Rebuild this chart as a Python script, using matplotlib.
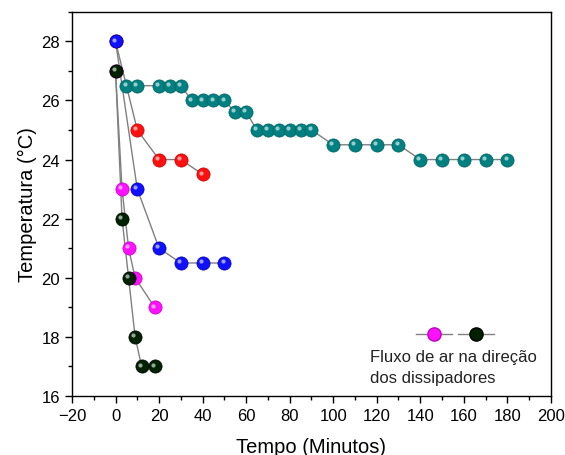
import matplotlib
matplotlib.use("Agg")
import matplotlib.pyplot as plt
from matplotlib.transforms import offset_copy
from matplotlib.lines import Line2D
from matplotlib.ticker import MultipleLocator

plt.rcParams['font.family'] = ['Liberation Sans', 'DejaVu Sans']

teal_t = [5, 10, 20, 25, 30, 35, 40, 45, 50, 55, 60, 65, 70, 75, 80, 85, 90,
          100, 110, 120, 130, 140, 150, 160, 170, 180]
teal_T = [26.5, 26.5, 26.5, 26.5, 26.5, 26, 26, 26, 26, 25.6, 25.6, 25, 25, 25, 25, 25, 25,
          24.5, 24.5, 24.5, 24.5, 24, 24, 24, 24, 24]
red_t = [0, 10, 20, 30, 40]
red_T = [28, 25, 24, 24, 23.5]
blue_t = [0, 10, 20, 30, 40, 50]
blue_T = [28, 23, 21, 20.5, 20.5, 20.5]
mag_t = [0, 3, 6, 9, 18]
mag_T = [27, 23, 21, 20, 19]
blk_t = [0, 3, 6, 9, 12, 18]
blk_T = [27, 22, 20, 18, 17, 17]

series = [
    (teal_t, teal_T, '#008080', '#006060'),
    (red_t, red_T, '#ff1010', '#c00000'),
    (blue_t, blue_T, '#1010ff', '#0000b0'),
    (mag_t, mag_T, '#ff10ff', '#c000c0'),
    (blk_t, blk_T, '#002200', '#000000'),
]

fig = plt.figure(figsize=(5.65, 4.56), dpi=100)
ax = fig.add_axes([0.1274, 0.1294, 0.8476, 0.8426])

hl = offset_copy(ax.transData, fig=fig, x=-1.3, y=1.3, units='points')
for i, (t, T, c, ec) in enumerate(series):
    ax.plot(t, T, color='#808080', lw=1.0, zorder=2 + i * 0.1)
    ax.plot(t, T, ls='none', marker='o', ms=9.5, mfc=c, mec=ec, mew=0.5, zorder=3 + i * 0.1)
    ax.plot(t, T, ls='none', marker='o', ms=3, mfc='white', mec='none', alpha=0.6,
            transform=hl, zorder=3.05 + i * 0.1)

ax.set_xlim(-20, 200)
ax.set_ylim(16, 29)
ax.set_xticks(range(-20, 201, 20))
ax.set_yticks(range(16, 29, 2))
ax.xaxis.set_minor_locator(MultipleLocator(10))
ax.yaxis.set_minor_locator(MultipleLocator(1))
ax.tick_params(which='major', direction='out', length=5, width=1, labelsize=12, colors='black')
ax.tick_params(which='minor', direction='out', length=3, width=1)
for s in ax.spines.values():
    s.set_linewidth(1.0)
ax.set_xlabel('Tempo (Minutos)', fontsize=14.5, labelpad=10)
ax.set_ylabel('Temperatura (°C)', fontsize=14.5, labelpad=3)

h1 = Line2D([], [], color='#808080', lw=1.0, marker='o', ms=9.5, mfc='#ff10ff', mec='#c000c0')
h2 = Line2D([], [], color='#808080', lw=1.0, marker='o', ms=9.5, mfc='#002200', mec='black')
leg = ax.legend([h1, h2], ['', ''], ncol=2, frameon=False, loc='center',
                bbox_to_anchor=(0.80, 0.159), handlelength=2.6, columnspacing=0.4,
                handletextpad=0.0)
ax.text(117, 16.97, 'Fluxo de ar na direção\ndos dissipadores', fontsize=12,
        ha='left', va='center', linespacing=1.5, color='#222222')

fig.savefig('out.png', dpi=100)
